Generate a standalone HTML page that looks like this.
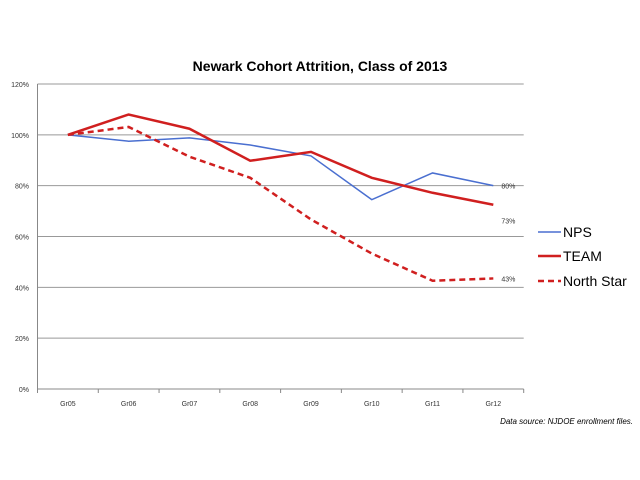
<!DOCTYPE html>
<html><head><meta charset="utf-8"><style>
body{margin:0;background:#fff;}
svg{display:block;font-family:"Liberation Sans",sans-serif;}
</style></head><body>
<svg width="640" height="480">
<text x="320" y="71" text-anchor="middle" font-size="14" font-weight="bold" fill="#000">Newark Cohort Attrition, Class of 2013</text>
<g id="grid"></g><g id="series"></g>
<g>
<line x1="538" y1="232" x2="561" y2="232" stroke="#4a6fd0" stroke-width="1.5"/>
<text x="563" y="237" font-size="14">NPS</text>
<line x1="538" y1="256" x2="561" y2="256" stroke="#d01f1f" stroke-width="2.5"/>
<text x="563" y="261" font-size="14">TEAM</text>
<line x1="538" y1="281" x2="561" y2="281" stroke="#d01f1f" stroke-width="2.5" stroke-dasharray="6,4"/>
<text x="563" y="286" font-size="14">North Star</text>
</g>
<text x="633" y="424" text-anchor="end" font-size="8" font-style="italic">Data source: NJDOE enrollment files.</text>
</svg>
<script>
const categories=["Gr05","Gr06","Gr07","Gr08","Gr09","Gr10","Gr11","Gr12"];
const yTicks=[0,20,40,60,80,100,120];
const npsValues=[100,97.5,98.8,96,91.7,74.5,85,80];
const teamValues=[100,108,102.4,89.8,93.3,83.1,77.2,72.5];
const northStarValues=[100,103.1,91.4,83.1,66.7,53.3,42.6,43.5];
const endLabels=["80%","73%","43%"];
const NS="http://www.w3.org/2000/svg";
const x0=37.5,x1=523.7,yTop=84,yBot=389;
const band=(x1-x0)/categories.length;
const X=i=>x0+band*(i+0.5);
const Y=v=>yBot-(v/120)*(yBot-yTop);
function mk(t,a,p){const e=document.createElementNS(NS,t);for(const k in a)e.setAttribute(k,a[k]);p.appendChild(e);return e;}
const grid=document.getElementById('grid'),ser=document.getElementById('series');
yTicks.forEach(v=>{
 const l=mk('line',{x1:x0,x2:x1,y1:Y(v),y2:Y(v),stroke:v===0?'#888':'#999','stroke-width':1},grid);
 
 
 const t=mk('text',{x:29,y:Y(v)+3,'text-anchor':'end','font-size':7,fill:'#333'},grid);t.textContent=v+'%';
 
 
});
mk('line',{x1:x0,x2:x0,y1:yTop,y2:yBot,stroke:'#888'},grid);
for(let i=0;i<=categories.length;i++)mk('line',{x1:x0+band*i,x2:x0+band*i,y1:yBot,y2:yBot+4,stroke:'#888'},grid);
categories.forEach((c,i)=>{const t=mk('text',{x:X(i),y:406,'text-anchor':'middle','font-size':7,fill:'#333'},grid);t.textContent=c;
 
 });
function line(vals,color,w,dash,name){
 const p=mk('polyline',{points:vals.map((v,i)=>X(i)+','+Y(v)).join(' '),fill:'none',stroke:color,'stroke-width':w},ser);
 if(dash)p.setAttribute('stroke-dasharray',dash);
 
 
}
line(npsValues,'#4a6fd0',1.5,null,'series-nps');
line(northStarValues,'#d01f1f',2.5,'6,4','series-north-star');
line(teamValues,'#d01f1f',2.5,null,'series-team');
const last=categories.length-1;
[[npsValues,0,3],[teamValues,1,19],[northStarValues,2,3]].forEach(([vals,k,dy])=>{
 const t=mk('text',{x:X(last)+8,y:Y(vals[last])+dy,'font-size':7,fill:'#333'},ser);t.textContent=endLabels[k];
 
 
});
</script>
</body></html>
